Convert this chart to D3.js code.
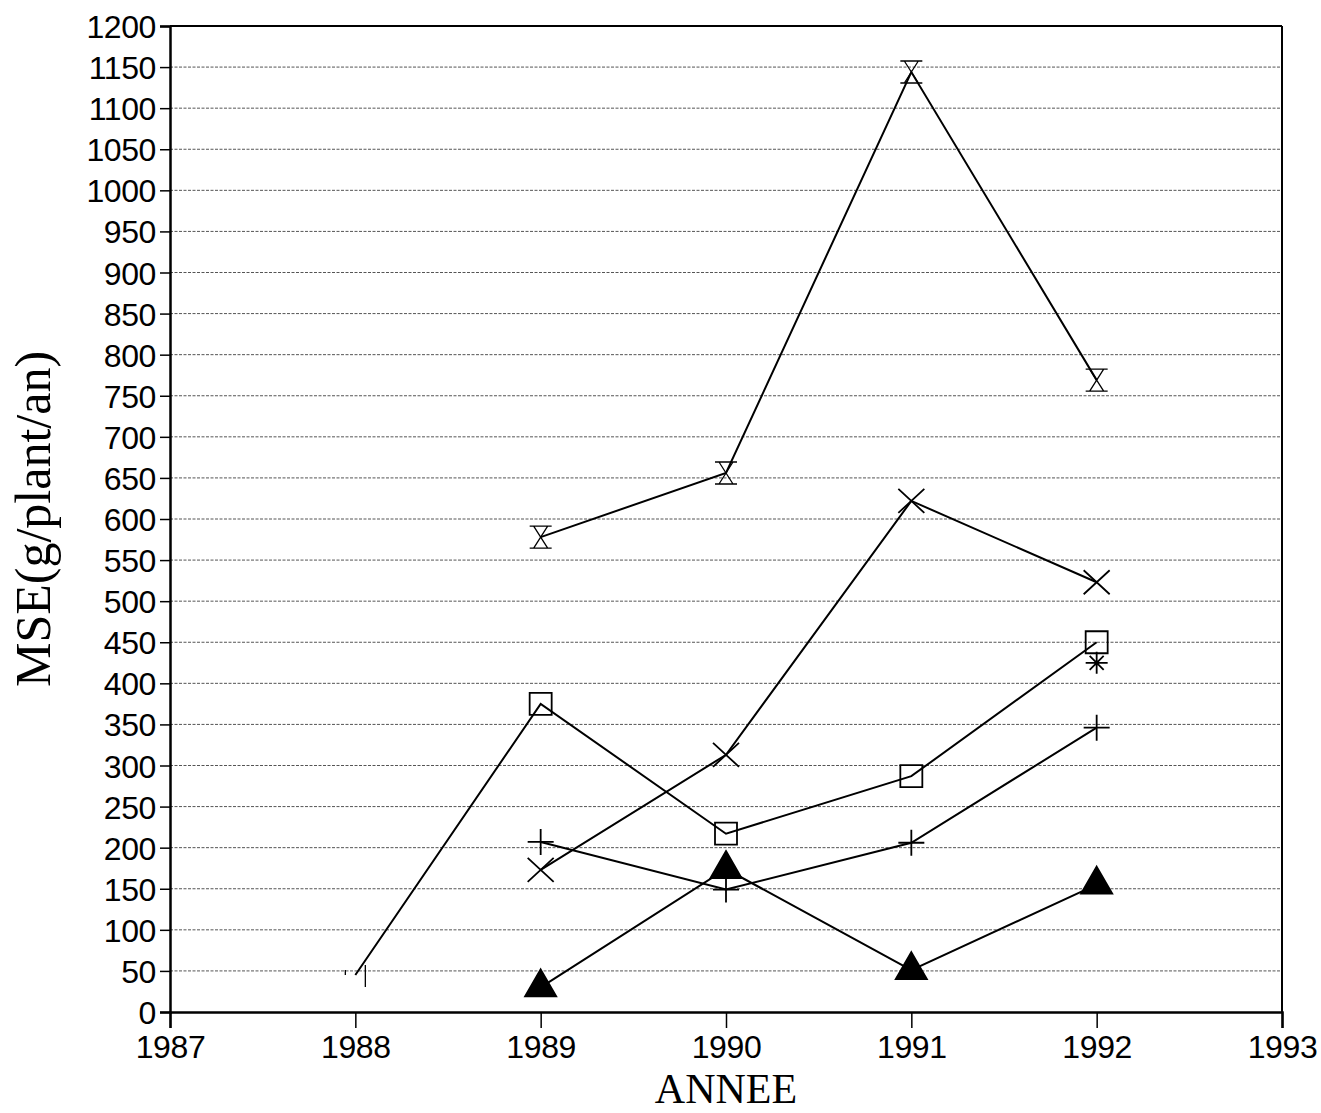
<!DOCTYPE html>
<html lang="fr">
<head>
    <meta charset="UTF-8">
    <title>MSE par année</title>
    <script src="https://d3js.org/d3.v7.min.js"></script>
    <style>
        body { margin: 0; background: #fff; }
        .tick text { font-family: "Liberation Sans", Arial, sans-serif; font-size: 32px; letter-spacing: -0.4px; fill: #000; }
        .grid line { stroke: #555; stroke-width: 1; stroke-dasharray: 3 1.5; }
        .axis-title { font-family: "Liberation Serif", "Times New Roman", serif; fill: #000; }
        .serie { fill: none; stroke: #000; stroke-width: 2; }
    </style>
</head>
<body>
<svg id="chart"></svg>
<script>
    // x ticks and y ticks
    const xTicks = [1987, 1988, 1989, 1990, 1991, 1992, 1993];
    const yTicks = d3.range(0, 1201, 50);

    // series (g/plant/an)
    const hourglassYears = [1989, 1990, 1991, 1992];
    const hourglassValues = [578, 656, 1144, 769];

    const crossYears = [1989, 1990, 1991, 1992];
    const crossValues = [173, 313, 622, 523];

    const squareYears = [1988, 1989, 1990, 1991, 1992];
    const squareValues = [45, 375, 217, 287, 450];
    const squareMarkers = ["tick", "square", "square", "square", "square"];

    const plusYears = [1989, 1990, 1991, 1992];
    const plusValues = [207, 149, 206, 346];

    const triangleYears = [1989, 1990, 1991, 1992];
    const triangleValues = [30, 174, 51, 155];

    const starYears = [1992];
    const starValues = [425];

    const W = 1321, H = 1113;
    const margin = {top: 26, right: 39, bottom: 101, left: 170};
    const width = W - margin.left - margin.right;
    const height = H - margin.top - margin.bottom;

    const svg = d3.select("#chart").attr("width", W).attr("height", H);
    const g = svg.append("g").attr("transform", `translate(${margin.left},${margin.top})`);

    const x = d3.scaleLinear().domain([1987, 1993]).range([0, width]);
    const y = d3.scaleLinear().domain([0, 1200]).range([height, 0]);

    // horizontal grid
    g.append("g").attr("class", "grid")
        .selectAll("line")
        .data(yTicks.filter(v => v > 0 && v < 1200))
        .enter().append("line")
        .attr("x1", 0).attr("x2", width)
        .attr("y1", d => y(d)).attr("y2", d => y(d));

    // frame (top and right)
    g.append("line").attr("x1", 0).attr("x2", width).attr("y1", 0).attr("y2", 0)
        .attr("stroke", "#000").attr("stroke-width", 2);
    g.append("line").attr("x1", width).attr("x2", width).attr("y1", 0).attr("y2", height)
        .attr("stroke", "#000").attr("stroke-width", 2);

    // axes
    const yAxis = g.append("g")
        .call(d3.axisLeft(y).tickValues(yTicks).tickSize(10).tickPadding(4).tickFormat(d3.format("d")));
    const xAxis = g.append("g")
        .attr("transform", `translate(0,${height})`)
        .call(d3.axisBottom(x).tickValues(xTicks).tickSize(16).tickPadding(3).tickFormat(d3.format("d")));
    [yAxis, xAxis].forEach(a => {
        a.select(".domain").attr("stroke", "#000").attr("stroke-width", 2.5);
        a.selectAll(".tick line").attr("stroke", "#000").attr("stroke-width", 1.5);
    });
    yAxis.selectAll(".tick text").attr("dy", "0.36em");
    xAxis.selectAll(".tick text").attr("dy", "0.85em");

    // axis titles
    svg.append("text").attr("class", "axis-title")
        .attr("transform", `translate(50,${margin.top + height / 2}) rotate(-90)`)
        .attr("text-anchor", "middle")
        .style("font-size", "50px")
        .text("MSE(g/plant/an)");
    svg.append("text").attr("class", "axis-title")
        .attr("x", margin.left + x(1990)).attr("y", 1103)
        .attr("text-anchor", "middle")
        .style("font-size", "42px")
        .text("ANNEE");

    // marker shapes
    function markerPath(type) {
        switch (type) {
            case "hourglass":
                return "M-11,-11L11,-11M-11,11L11,11M-7,-11L7,11M7,-11L-7,11";
            case "cross":
                return "M-13,-12L13,12M-13,12L13,-12";
            case "plus":
                return "M-13,0L13,0M0,-13L0,13";
            case "square":
                return "M-11,-11H11V11H-11Z";
            case "star":
                return "M-11,0L11,0M0,-11L0,11M-7,-7L7,7M-7,7L7,-7";
            case "tick":
                return "M10,-10L10,12M-10,-5L-10,0";
            case "triangle":
                return d3.symbol(d3.symbolTriangle, 420)();
        }
    }

    const line = d3.line().x(d => x(d.year)).y(d => y(d.value));

    function drawSerie(years, values, markers) {
        const pts = years.map((yr, i) => ({year: yr, value: values[i], marker: markers[i]}));
        if (pts.length > 1) {
            g.append("path").attr("class", "serie").attr("d", line(pts));
        }
        g.selectAll(null)
            .data(pts)
            .enter().append("path")
            .attr("transform", d => `translate(${x(d.year)},${y(d.value)})`)
            .attr("d", d => markerPath(d.marker))
            .attr("fill", d => d.marker === "triangle" ? "#000" : "none")
            .attr("stroke", "#000")
            .attr("stroke-width", d => d.marker === "hourglass" || d.marker === "tick" ? 1.3 : 1.8);
    }

    const fill = (arr, m) => arr.map(() => m);
    drawSerie(hourglassYears, hourglassValues, fill(hourglassYears, "hourglass"));
    drawSerie(crossYears, crossValues, fill(crossYears, "cross"));
    drawSerie(squareYears, squareValues, squareMarkers);
    drawSerie(plusYears, plusValues, fill(plusYears, "plus"));
    drawSerie(triangleYears, triangleValues, fill(triangleYears, "triangle"));
    drawSerie(starYears, starValues, fill(starYears, "star"));
</script>
</body>
</html>
